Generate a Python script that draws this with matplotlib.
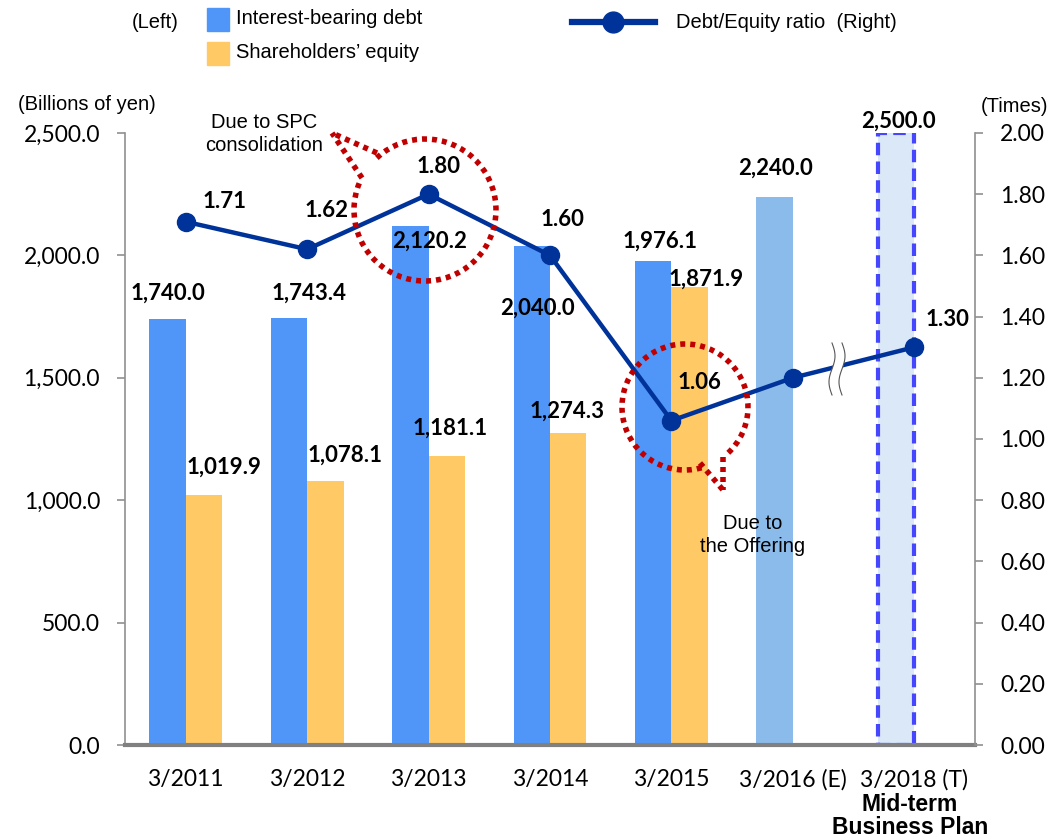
import numpy as np
import matplotlib.pyplot as plt
from matplotlib.patches import Arc, Rectangle, Polygon
from matplotlib.lines import Line2D
from matplotlib.ticker import FuncFormatter, MultipleLocator

# data
periods = ['3/2011', '3/2012', '3/2013', '3/2014', '3/2015', '3/2016 (E)', '3/2018 (T)']
debt = [1740.0, 1743.4, 2120.2, 2040.0, 1976.1, 2240.0, 2500.0]
equity = [1019.9, 1078.1, 1181.1, 1274.3, 1871.9]
de_ratio = [1.71, 1.62, 1.80, 1.60, 1.06, 1.20, 1.30]
ratio_shown = [True, True, True, True, True, False, True]

# label offsets (x in category units, y in axis units)
debt_lbl_dx = [-0.146, 0.015, 0.01, -0.107, -0.094, -0.147, -0.134]
debt_lbl_dy = [106, 103, -61, -255, 83, 117, 49]
eq_lbl_dx = [0.315, 0.31, 0.18, 0.14, 0.285]
eq_lbl_dy = [116, 107, 114, 90, 32]
ratio_lbl_dx = [0.32, 0.16, 0.08, 0.10, 0.235, 0, 0.27]
ratio_lbl_dy = [0.065, 0.128, 0.092, 0.116, 0.126, 0, 0.089]

W, H = 1053, 840
NUM_FONT = 'Lato'
TXT_FONT = 'Liberation Sans'
TXT_SIZE = 14.5

def fx(px):
    return px / W

def fy(py):
    return 1 - py / H

fig = plt.figure(figsize=(W / 100, H / 100), dpi=100)
ax = fig.add_axes([fx(125), fy(745), 850 / W, 612 / H])
ax2 = ax.twinx()

x = np.arange(len(periods))
bw = 0.3
blue = '#5096F8'
orange = '#FFC966'

# debt bars: actual, estimate, target
ax.bar(x[:5] - bw / 2, debt[:5], bw, color=blue, zorder=2)
ax.bar(x[5] - bw / 2, debt[5], bw, color='#8BBBEA', zorder=2)
ax.bar(x[6] - bw / 2, debt[6], bw, color='#DAE8F8', edgecolor='#4646FF',
       linestyle=(0, (3, 1.5)), linewidth=3, zorder=2)
ax.bar(x[:5] + bw / 2, equity, bw, color=orange, zorder=2)

ax.set_xlim(-0.5, len(periods) - 0.5)
ax.set_ylim(0, 2500)
ax.yaxis.set_major_locator(MultipleLocator(500))
ax.yaxis.set_major_formatter(FuncFormatter(lambda v, p: f'{v:,.1f}'))
ax.set_xticks(x)
ax.set_xticklabels(periods)

ax2.set_ylim(0, 2.0)
ax2.yaxis.set_major_locator(MultipleLocator(0.2))
ax2.yaxis.set_major_formatter(FuncFormatter(lambda v, p: f'{v:.2f}'))

for a in (ax, ax2):
    a.spines['top'].set_visible(False)
    for s in ('left', 'right'):
        a.spines[s].set_color('#909090')
        a.spines[s].set_linewidth(1.2)
    a.tick_params(axis='y', direction='out', length=6, width=1.2, color='#909090',
                  labelsize=16.5)
    for lab in a.get_yticklabels():
        lab.set_fontfamily(NUM_FONT)
ax.tick_params(axis='y', pad=12)
ax2.tick_params(axis='y', pad=12)
ax.spines['bottom'].set_color('#808080')
ax.spines['bottom'].set_linewidth(3)
ax2.spines['bottom'].set_visible(False)
ax.spines['right'].set_visible(False)
ax2.spines['left'].set_visible(False)
ax.tick_params(axis='x', length=0, labelsize=16.5, pad=17)
for lab in ax.get_xticklabels():
    lab.set_fontfamily(NUM_FONT)

# ratio line
ax2.plot(x, de_ratio, color='#003399', lw=3.2, marker='o', markersize=13, zorder=5)

# value labels
for i, v in enumerate(debt):
    ax.text(i + debt_lbl_dx[i], v + debt_lbl_dy[i], f'{v:,.1f}', ha='center', va='center',
            fontsize=16, fontweight='bold', family=NUM_FONT, zorder=6)
for i, v in enumerate(equity):
    ax.text(i + eq_lbl_dx[i], v + eq_lbl_dy[i], f'{v:,.1f}', ha='center', va='center',
            fontsize=16, fontweight='bold', family=NUM_FONT, zorder=6)
for i, v in enumerate(de_ratio):
    if ratio_shown[i]:
        ax2.text(i + ratio_lbl_dx[i], v + ratio_lbl_dy[i], f'{v:.2f}', ha='center', va='center',
                 fontsize=16, fontweight='bold', family=NUM_FONT, zorder=6)

# red dotted callouts (drawn in pixel space)
red = '#C00000'
dots = (0, (0.9, 0.9))

def callout(cx, cy, r, a_start, a_end, tip, p1, p2):
    arc = Arc((fx(cx), fy(cy)), 2 * r / W, 2 * r / H, theta1=a_start, theta2=a_end,
              transform=fig.transFigure, color=red, lw=4, linestyle=dots, zorder=10)
    fig.add_artist(arc)
    for p in (p1, p2):
        fig.add_artist(Line2D([fx(p[0]), fx(tip[0])], [fy(p[1]), fy(tip[1])],
                              color=red, lw=4, linestyle=dots, transform=fig.transFigure))

callout(425, 210, 71, 153, 490, (332, 133), (362, 178), (377, 153))
callout(685, 407, 63, 307, 645, (723, 490), (700, 463), (723, 457))

fig.text(fx(264), fy(134), 'Due to SPC\nconsolidation', ha='center', va='center',
         fontsize=TXT_SIZE, family=TXT_FONT, linespacing=1.25)
fig.text(fx(753), fy(535), 'Due to\nthe Offering', ha='center', va='center',
         fontsize=TXT_SIZE, family=TXT_FONT, linespacing=1.25)

# break mark on the line between 3/2016 and 3/2018
t = np.linspace(0, 1, 40)
yy = 343 + 52 * t
wav = 3 * np.sin(2 * np.pi * t)
left_c = 832 + wav
right_c = 842 + wav
poly = np.column_stack([np.r_[left_c, right_c[::-1]], np.r_[yy, yy[::-1]]])
fig.add_artist(Polygon(np.column_stack([fx(poly[:, 0]), fy(poly[:, 1])]), closed=True,
                       facecolor='white', edgecolor='none', transform=fig.transFigure, zorder=11))
for c in (left_c, right_c):
    fig.add_artist(Line2D(fx(c), fy(yy), color='#555555', lw=0.8,
                          transform=fig.transFigure, zorder=12))

# axis unit labels
fig.text(fx(87), fy(105), '(Billions of yen)', ha='center', va='center', fontsize=TXT_SIZE, family=TXT_FONT)
fig.text(fx(1015), fy(106), '(Times)', ha='center', va='center', fontsize=TXT_SIZE, family=TXT_FONT)
fig.text(fx(910), fy(816), 'Mid-term\nBusiness Plan', ha='center', va='center', fontsize=16.5,
         fontweight='bold', family=TXT_FONT, linespacing=1.05)

# legend
fig.text(fx(155), fy(22), '(Left)', ha='center', va='center', fontsize=TXT_SIZE, family=TXT_FONT)
fig.add_artist(Rectangle((fx(207), fy(31)), 22 / W, 23 / H, color=blue, transform=fig.transFigure))
fig.add_artist(Rectangle((fx(207), fy(65)), 22 / W, 23 / H, color=orange, transform=fig.transFigure))
fig.text(fx(236), fy(19), 'Interest-bearing debt', ha='left', va='center', fontsize=TXT_SIZE, family=TXT_FONT)
fig.text(fx(236), fy(52), 'Shareholders\u2019 equity', ha='left', va='center', fontsize=TXT_SIZE, family=TXT_FONT)
fig.add_artist(Line2D([fx(572), fx(655)], [fy(22), fy(22)], color='#003399', lw=4.5,
                      transform=fig.transFigure))
fig.add_artist(Line2D([fx(613)], [fy(22)], color='#003399', marker='o', markersize=15,
                      transform=fig.transFigure))
fig.text(fx(676), fy(22), 'Debt/Equity ratio  (Right)', ha='left', va='center', fontsize=TXT_SIZE,
         family=TXT_FONT)

fig.savefig('out.png', dpi=100)
